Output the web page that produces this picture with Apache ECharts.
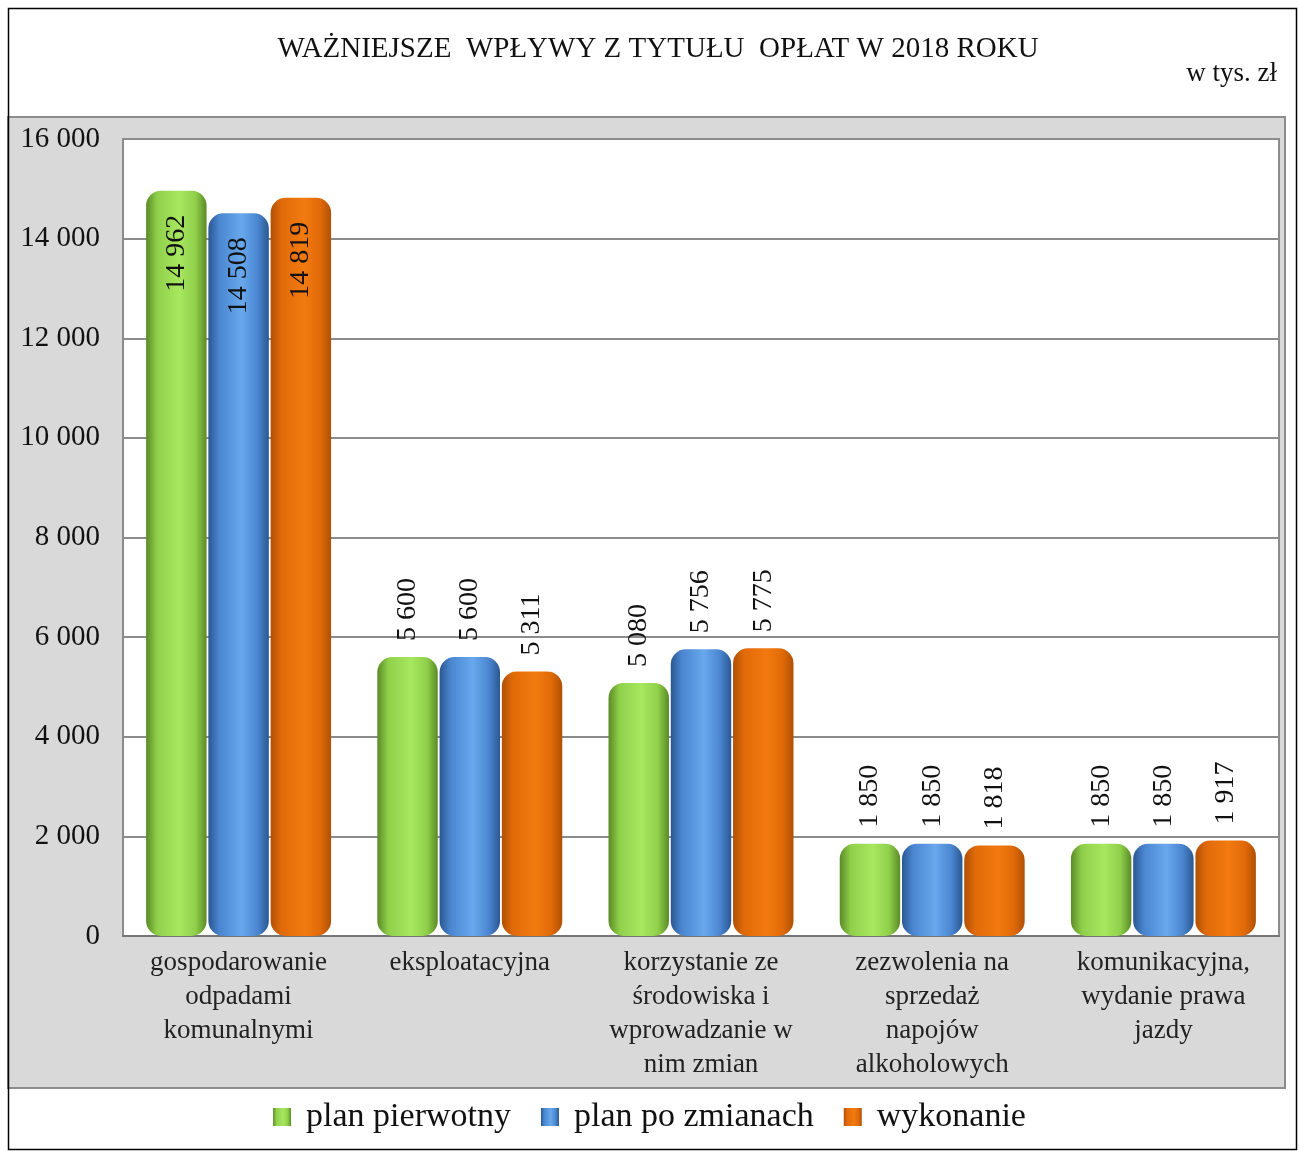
<!DOCTYPE html>
<html>
<head>
<meta charset="utf-8">
<script src="https://cdn.jsdelivr.net/npm/echarts@6/dist/echarts.min.js"></script>
<style>html,body{margin:0;padding:0;background:#fff}#c{width:1299px;height:1151px}</style>
</head>
<body>
<div id="c"></div>
<script>
var categories = ["gospodarowanie\nodpadami\nkomunalnymi", "eksploatacyjna", "korzystanie ze\nśrodowiska i\nwprowadzanie w\nnim zmian", "zezwolenia na\nsprzedaż\nnapojów\nalkoholowych", "komunikacyjna,\nwydanie prawa\njazdy"];
var seriesNames = ["plan pierwotny", "plan po zmianach", "wykonanie"];
var planPierwotny = [14962, 5600, 5080, 1850, 1850];
var planPoZmianach = [14508, 5600, 5756, 1850, 1850];
var wykonanie = [14819, 5311, 5775, 1818, 1917];
var yTicks = [0, 2000, 4000, 6000, 8000, 10000, 12000, 14000, 16000];

function fmt(v){ return String(v).replace(/\B(?=(\d{3})+(?!\d))/g, ' '); }
function grad(edge, mid, light){
  return new echarts.graphic.LinearGradient(0,0,1,0,[
    {offset:0,color:edge},{offset:0.18,color:mid},{offset:0.55,color:light},{offset:0.82,color:mid},{offset:1,color:edge}]);
}
var fills = [grad('#5a8a26','#8fcf4a','#a8e860'), grad('#2a5790','#4a86d0','#68a8ec'), grad('#b05004','#e06a08','#f27a10')];
var font = '"Liberation Serif","Times New Roman",serif';

function makeData(arr){
  return arr.map(function(v,i){
    if(i===0){
      return {value:v, label:{position:'insideTop', distance:24, align:'right', verticalAlign:'middle'}};
    }
    return {value:v};
  });
}
var all = [planPierwotny, planPoZmianach, wykonanie];
var series = all.map(function(arr,k){
  return {
    name: seriesNames[k], type:'bar', data: makeData(arr),
    barGap:'3%', barCategoryGap:'20%',
    itemStyle:{color:fills[k], borderRadius:15},
    label:{show:true, rotate:90, position:'top', distance:16, align:'left', verticalAlign:'middle',
      fontFamily:font, fontSize:28, color:'#111', formatter:function(p){return fmt(p.value);}}
  };
});

var chart = echarts.init(document.getElementById('c'));
chart.setOption({
  animation:false,
  backgroundColor:'#fff',
  graphic:[
    {type:'rect', z:-10, shape:{x:8,y:117,width:1277,height:971}, style:{fill:'#d9d9d9', stroke:'#8c8c8c', lineWidth:2}},
    {type:'rect', z:-9, shape:{x:8.5,y:8.5,width:1288,height:1141}, style:{fill:null, stroke:'#000', lineWidth:1.5}},
    {type:'text', right:22, top:60, style:{text:'w tys. zł', font:'27px '+font, fill:'#111'}}
  ],
  title:{text:'WAŻNIEJSZE  WPŁYWY Z TYTUŁU  OPŁAT W 2018 ROKU', left:653, textAlign:'center', top:30,
    textStyle:{fontFamily:font, fontSize:29, fontWeight:'normal', color:'#111'}},
  legend:{bottom:12, left:'center', itemWidth:18, itemHeight:18, itemGap:30, icon:'rect',
    textStyle:{fontFamily:font, fontSize:34, color:'#111', padding:[0,0,0,10]}},
  grid:{left:123, right:20, top:139, bottom:215, show:true, backgroundColor:'#fff', borderColor:'#8c8c8c', borderWidth:2},
  xAxis:{type:'category', data:categories,
    axisLine:{lineStyle:{color:'#777', width:2}}, axisTick:{show:false},
    axisLabel:{interval:0, margin:10, fontFamily:font, fontSize:27, lineHeight:34, color:'#222'}},
  yAxis:{type:'value', min:yTicks[0], max:yTicks[yTicks.length-1], interval:2000,
    axisLine:{show:false}, axisTick:{show:false},
    splitLine:{lineStyle:{color:'#8c8c8c', width:2}},
    axisLabel:{margin:23, fontFamily:font, fontSize:29, color:'#111', formatter:function(v){return fmt(v);}}},
  series: series
});
</script>
</body>
</html>
